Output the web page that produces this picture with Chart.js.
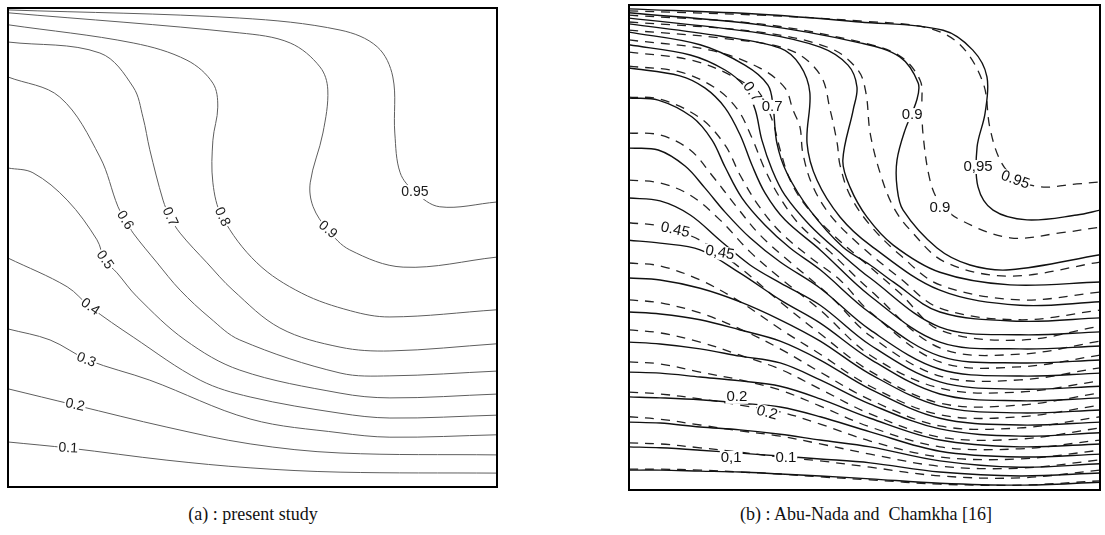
<!DOCTYPE html>
<html>
<head>
<meta charset="utf-8">
<script src="https://cdn.jsdelivr.net/npm/chart.js@4.4.1/dist/chart.umd.min.js"></script>
<style>
    body { margin: 0; background: #fff; width: 1105px; height: 535px; position: relative; overflow: hidden; }
    #panelA { position: absolute; left: 0; top: 0; }
    #panelB { position: absolute; left: 621px; top: 0; }
    .caption { position: absolute; top: 504px; font-family: "Liberation Serif", "Times New Roman", serif; font-size: 18px; color: #111; white-space: pre; transform: translateX(-50%); }
</style>
</head>
<body>
<canvas id="panelA" width="505" height="495"></canvas>
<canvas id="panelB" width="484" height="498"></canvas>
<div class="caption" style="left:253px">(a) : present study</div>
<div class="caption" style="left:866px">(b) : Abu-Nada and  Chamkha [16]</div>
<script>
'use strict';

// (a) present study: isotherms, x and y of the cavity in 0..1
const levelsA = ['0.1', '0.2', '0.3', '0.4', '0.5', '0.6', '0.7', '0.8', '0.9', '0.95'];
const curvesA = [
    [[0, 0.094], [0.127, 0.081], [0.325, 0.056], [0.495, 0.040], [0.679, 0.031], [1, 0.029]],
    [[0, 0.205], [0.137, 0.171], [0.325, 0.125], [0.495, 0.090], [0.679, 0.071], [1, 0.067]],
    [[0, 0.330], [0.086, 0.307], [0.164, 0.265], [0.290, 0.223], [0.495, 0.142], [0.679, 0.113], [0.781, 0.104], [1, 0.109]],
    [[0, 0.478], [0.121, 0.418], [0.168, 0.376], [0.256, 0.313], [0.393, 0.223], [0.495, 0.188], [0.679, 0.154], [0.781, 0.144], [1, 0.150]],
    [[0, 0.666], [0.051, 0.656], [0.121, 0.599], [0.182, 0.516], [0.198, 0.474], [0.223, 0.447], [0.264, 0.397], [0.362, 0.307], [0.474, 0.244], [0.679, 0.196], [0.781, 0.186], [1, 0.194]],
    [[0, 0.856], [0.106, 0.814], [0.188, 0.689], [0.225, 0.585], [0.243, 0.553], [0.256, 0.530], [0.305, 0.468], [0.352, 0.411], [0.413, 0.353], [0.474, 0.307], [0.679, 0.238], [0.781, 0.232], [1, 0.242]],
    [[0, 0.929], [0.188, 0.906], [0.256, 0.835], [0.276, 0.772], [0.290, 0.704], [0.317, 0.599], [0.331, 0.564], [0.352, 0.530], [0.407, 0.468], [0.460, 0.411], [0.556, 0.332], [0.679, 0.292], [0.781, 0.284], [1, 0.299]],
    [[0, 0.965], [0.256, 0.927], [0.366, 0.891], [0.419, 0.843], [0.429, 0.793], [0.419, 0.724], [0.419, 0.635], [0.438, 0.564], [0.509, 0.468], [0.600, 0.405], [0.700, 0.368], [0.781, 0.355], [1, 0.370]],
    [[0, 0.990], [0.474, 0.948], [0.577, 0.927], [0.638, 0.877], [0.654, 0.829], [0.644, 0.739], [0.618, 0.635], [0.624, 0.585], [0.654, 0.537], [0.699, 0.495], [0.808, 0.459], [1, 0.480]],
    [[0, 0.996], [0.474, 0.979], [0.679, 0.954], [0.755, 0.919], [0.787, 0.856], [0.791, 0.739], [0.802, 0.656], [0.832, 0.616], [0.883, 0.585], [1, 0.595]]
];
// label text, x, y, angle (deg)
const labelsA = [
    ['0.95', 0.832, 0.616, 0], ['0.9', 0.654, 0.537, 40], ['0.8', 0.438, 0.564, 65],
    ['0.7', 0.331, 0.564, 65], ['0.6', 0.239, 0.557, 58], ['0.5', 0.198, 0.474, 55],
    ['0.4', 0.168, 0.376, 35], ['0.3', 0.160, 0.265, 22], ['0.2', 0.137, 0.171, 12],
    ['0.1', 0.123, 0.081, 3]
];

// (b) Abu-Nada and Chamkha: lower isotherms sampled on a common x grid
const xGridB = [0, 0.066, 0.151, 0.236, 0.321, 0.406, 0.512, 0.660, 0.830, 1];
const lowLevelsB = ['0.05', '0.1', '0.15', '0.2', '0.25', '0.3', '0.35', '0.4', '0.45'];
const lowSolidB = [
    [0.041, 0.041, 0.039, 0.037, 0.033, 0.029, 0.023, 0.014, 0.010, 0.016],
    [0.089, 0.087, 0.082, 0.076, 0.070, 0.064, 0.056, 0.037, 0.029, 0.035],
    [0.140, 0.138, 0.130, 0.124, 0.115, 0.103, 0.089, 0.060, 0.047, 0.054],
    [0.192, 0.190, 0.186, 0.179, 0.171, 0.151, 0.120, 0.080, 0.068, 0.074],
    [0.243, 0.241, 0.233, 0.225, 0.214, 0.188, 0.148, 0.103, 0.089, 0.095],
    [0.305, 0.301, 0.291, 0.276, 0.262, 0.227, 0.177, 0.126, 0.111, 0.118],
    [0.367, 0.363, 0.351, 0.330, 0.307, 0.268, 0.208, 0.148, 0.134, 0.140],
    [0.437, 0.433, 0.416, 0.388, 0.351, 0.307, 0.239, 0.173, 0.159, 0.165],
    [0.515, 0.509, 0.495, 0.447, 0.392, 0.344, 0.270, 0.198, 0.184, 0.190]
];
const lowDashedB = [
    [0.043, 0.043, 0.041, 0.037, 0.033, 0.027, 0.021, 0.012, 0.010, 0.019],
    [0.097, 0.095, 0.087, 0.078, 0.068, 0.060, 0.047, 0.029, 0.025, 0.041],
    [0.151, 0.146, 0.134, 0.122, 0.111, 0.095, 0.074, 0.049, 0.045, 0.062],
    [0.202, 0.198, 0.188, 0.175, 0.161, 0.136, 0.101, 0.068, 0.064, 0.082],
    [0.264, 0.260, 0.243, 0.227, 0.206, 0.173, 0.130, 0.089, 0.085, 0.103],
    [0.330, 0.324, 0.305, 0.278, 0.249, 0.208, 0.157, 0.109, 0.105, 0.128],
    [0.392, 0.386, 0.365, 0.332, 0.291, 0.243, 0.186, 0.132, 0.128, 0.151],
    [0.468, 0.462, 0.433, 0.388, 0.332, 0.280, 0.214, 0.155, 0.151, 0.175],
    [0.551, 0.544, 0.515, 0.458, 0.388, 0.322, 0.245, 0.179, 0.175, 0.200]
];

// (b) upper isotherms, traced point by point
const highLevelsB = ['0.5', '0.55', '0.6', '0.65', '0.7', '0.75', '0.8', '0.85', '0.9', '0.95'];
const highSolidB = [
    [[0, 0.602], [0.066, 0.596], [0.130, 0.567], [0.193, 0.515], [0.257, 0.464], [0.321, 0.427], [0.406, 0.381], [0.512, 0.299], [0.660, 0.223], [0.830, 0.208], [1, 0.214]],
    [[0, 0.705], [0.062, 0.701], [0.119, 0.668], [0.161, 0.623], [0.204, 0.573], [0.257, 0.520], [0.321, 0.470], [0.406, 0.416], [0.512, 0.330], [0.660, 0.249], [0.830, 0.235], [1, 0.241]],
    [[0, 0.808], [0.062, 0.804], [0.134, 0.769], [0.176, 0.722], [0.204, 0.666], [0.240, 0.602], [0.289, 0.546], [0.342, 0.499], [0.406, 0.454], [0.512, 0.365], [0.660, 0.276], [0.830, 0.262], [1, 0.268]],
    [[0, 0.870], [0.108, 0.854], [0.161, 0.829], [0.204, 0.788], [0.236, 0.732], [0.261, 0.670], [0.289, 0.612], [0.331, 0.557], [0.406, 0.495], [0.512, 0.400], [0.660, 0.305], [0.830, 0.291], [1, 0.297]],
    [[0, 0.918], [0.130, 0.897], [0.204, 0.866], [0.246, 0.831], [0.268, 0.784], [0.282, 0.722], [0.304, 0.660], [0.331, 0.608], [0.384, 0.546], [0.448, 0.489], [0.512, 0.437], [0.660, 0.336], [0.830, 0.320], [1, 0.326]],
    [[0, 0.944], [0.151, 0.918], [0.246, 0.876], [0.295, 0.835], [0.306, 0.790], [0.314, 0.715], [0.335, 0.654], [0.384, 0.577], [0.454, 0.501], [0.512, 0.464], [0.561, 0.429], [0.660, 0.367], [0.830, 0.348], [1, 0.355]],
    [[0, 0.961], [0.193, 0.936], [0.321, 0.911], [0.363, 0.876], [0.384, 0.819], [0.378, 0.715], [0.399, 0.639], [0.448, 0.563], [0.512, 0.505], [0.660, 0.412], [0.830, 0.381], [1, 0.388]],
    [[0, 0.973], [0.278, 0.942], [0.406, 0.913], [0.465, 0.876], [0.484, 0.831], [0.476, 0.784], [0.454, 0.680], [0.469, 0.625], [0.505, 0.563], [0.561, 0.505], [0.660, 0.449], [0.809, 0.423], [1, 0.429]],
    [[0, 0.984], [0.278, 0.959], [0.490, 0.922], [0.575, 0.893], [0.614, 0.839], [0.611, 0.804], [0.586, 0.742], [0.569, 0.680], [0.569, 0.625], [0.582, 0.577], [0.654, 0.499], [0.724, 0.464], [0.809, 0.454], [1, 0.485]],
    [[0, 0.992], [0.278, 0.981], [0.490, 0.965], [0.667, 0.948], [0.730, 0.907], [0.760, 0.852], [0.756, 0.777], [0.739, 0.707], [0.741, 0.625], [0.773, 0.577], [0.845, 0.557], [0.951, 0.567], [1, 0.577]]
];
const highDashedB = [
    [[0, 0.639], [0.066, 0.633], [0.130, 0.608], [0.193, 0.557], [0.257, 0.491], [0.321, 0.437], [0.406, 0.371], [0.512, 0.278], [0.660, 0.210], [0.830, 0.202], [1, 0.225]],
    [[0, 0.736], [0.066, 0.732], [0.130, 0.701], [0.176, 0.649], [0.225, 0.588], [0.278, 0.526], [0.342, 0.470], [0.427, 0.400], [0.512, 0.318], [0.660, 0.235], [0.830, 0.227], [1, 0.252]],
    [[0, 0.810], [0.066, 0.806], [0.151, 0.767], [0.204, 0.711], [0.236, 0.649], [0.274, 0.588], [0.321, 0.532], [0.384, 0.480], [0.448, 0.433], [0.512, 0.367], [0.660, 0.264], [0.830, 0.254], [1, 0.278]],
    [[0, 0.874], [0.108, 0.862], [0.183, 0.829], [0.231, 0.784], [0.261, 0.726], [0.289, 0.660], [0.321, 0.602], [0.363, 0.546], [0.427, 0.491], [0.512, 0.412], [0.660, 0.293], [0.830, 0.280], [1, 0.307]],
    [[0, 0.903], [0.130, 0.887], [0.214, 0.856], [0.278, 0.814], [0.304, 0.763], [0.321, 0.701], [0.342, 0.639], [0.374, 0.588], [0.427, 0.532], [0.490, 0.478], [0.575, 0.406], [0.660, 0.330], [0.830, 0.309], [1, 0.338]],
    [[0, 0.928], [0.172, 0.907], [0.278, 0.870], [0.331, 0.829], [0.348, 0.784], [0.363, 0.748], [0.369, 0.695], [0.389, 0.629], [0.427, 0.567], [0.490, 0.505], [0.575, 0.437], [0.660, 0.375], [0.830, 0.351], [1, 0.371]],
    [[0, 0.948], [0.193, 0.932], [0.342, 0.907], [0.406, 0.856], [0.427, 0.784], [0.442, 0.715], [0.448, 0.670], [0.469, 0.608], [0.512, 0.546], [0.575, 0.485], [0.660, 0.423], [0.830, 0.392], [1, 0.408]],
    [[0, 0.965], [0.278, 0.944], [0.427, 0.911], [0.486, 0.866], [0.503, 0.819], [0.512, 0.736], [0.533, 0.654], [0.561, 0.584], [0.597, 0.536], [0.671, 0.470], [0.809, 0.441], [1, 0.470]],
    [[0, 0.979], [0.278, 0.961], [0.490, 0.924], [0.575, 0.895], [0.618, 0.845], [0.622, 0.798], [0.624, 0.736], [0.639, 0.639], [0.660, 0.592], [0.703, 0.557], [0.809, 0.520], [0.915, 0.530], [1, 0.542]],
    [[0, 0.988], [0.278, 0.979], [0.490, 0.967], [0.633, 0.953], [0.703, 0.918], [0.752, 0.839], [0.766, 0.748], [0.788, 0.680], [0.820, 0.643], [0.873, 0.625], [0.951, 0.631], [1, 0.635]]
];
const labelsB = [
    ['0,95', 0.741, 0.666, 0], ['0.95', 0.820, 0.639, 20], ['0.9', 0.601, 0.773, 0],
    ['0.9', 0.660, 0.581, 0], ['0.7', 0.261, 0.821, 55], ['0.7', 0.304, 0.790, 0],
    ['0.45', 0.098, 0.536, 12], ['0,45', 0.193, 0.489, 10], ['0.2', 0.229, 0.192, 0],
    ['0.2', 0.293, 0.159, 15], ['0,1', 0.217, 0.066, 0], ['0.1', 0.333, 0.066, 0]
];

// Popisky izoterm s bílým podkladem (přeruší čáru)
const contourLabels = {
    id: 'contourLabels',
    afterDatasetsDraw(chart, args, opts) {
        const ctx = chart.ctx;
        const sx = chart.scales.x, sy = chart.scales.y;
        ctx.save();
        ctx.font = opts.font;
        ctx.textAlign = 'center';
        ctx.textBaseline = 'middle';
        opts.items.forEach(([text, x, y, rot]) => {
            const w = ctx.measureText(text).width;
            ctx.save();
            ctx.translate(sx.getPixelForValue(x), sy.getPixelForValue(y));
            ctx.rotate(rot * Math.PI / 180);
            ctx.fillStyle = '#fff';
            ctx.fillRect(-w / 2 - 1, -7, w + 2, 14);
            ctx.fillStyle = opts.color;
            ctx.fillText(text, 0, 0);
            ctx.restore();
        });
        ctx.restore();
    }
};

// Rámeček dutiny
const cavityFrame = {
    id: 'cavityFrame',
    afterDraw(chart) {
        const a = chart.chartArea;
        const ctx = chart.ctx;
        ctx.save();
        ctx.strokeStyle = '#000';
        ctx.lineWidth = 2;
        ctx.strokeRect(a.left, a.top, a.right - a.left, a.bottom - a.top);
        ctx.restore();
    }
};

function lineSet(points, color, width, dash) {
    return {
        data: points.map(([x, y]) => ({ x, y })),
        showLine: true,
        borderColor: color,
        borderWidth: width,
        borderDash: dash || [],
        pointRadius: 0,
        tension: 0.35,
        fill: false
    };
}

function makeOptions(padding, labels, font, color) {
    return {
        responsive: false,
        animation: false,
        layout: { padding },
        scales: {
            x: { type: 'linear', min: 0, max: 1, display: false },
            y: { type: 'linear', min: 0, max: 1, display: false }
        },
        plugins: {
            legend: { display: false },
            tooltip: { enabled: false },
            contourLabels: { items: labels, font, color }
        }
    };
}

// Graf (a)
new Chart(document.getElementById('panelA'), {
    type: 'scatter',
    data: {
        labels: levelsA,
        datasets: curvesA.map(c => lineSet(c, '#5e5e5e', 1))
    },
    options: makeOptions({ left: 8, top: 8, right: 8, bottom: 8 }, labelsA, '14px "Liberation Sans", Arial, sans-serif', '#1a1a1a'),
    plugins: [contourLabels, cavityFrame]
});

// Graf (b): plné = jedna studie, čárkované = druhá
const datasetsB = [];
lowSolidB.forEach(ys => datasetsB.push(lineSet(xGridB.map((x, i) => [x, ys[i]]), '#111', 1.4)));
lowDashedB.forEach(ys => datasetsB.push(lineSet(xGridB.map((x, i) => [x, ys[i]]), '#222', 1.3, [9, 7])));
highSolidB.forEach(c => datasetsB.push(lineSet(c, '#111', 1.4)));
highDashedB.forEach(c => datasetsB.push(lineSet(c, '#222', 1.3, [9, 7])));

new Chart(document.getElementById('panelB'), {
    type: 'scatter',
    data: {
        labels: lowLevelsB.concat(highLevelsB),
        datasets: datasetsB
    },
    options: makeOptions({ left: 8, top: 5, right: 5, bottom: 8 }, labelsB, '15px "Liberation Sans", Arial, sans-serif', '#111'),
    plugins: [contourLabels, cavityFrame]
});
</script>
</body>
</html>
